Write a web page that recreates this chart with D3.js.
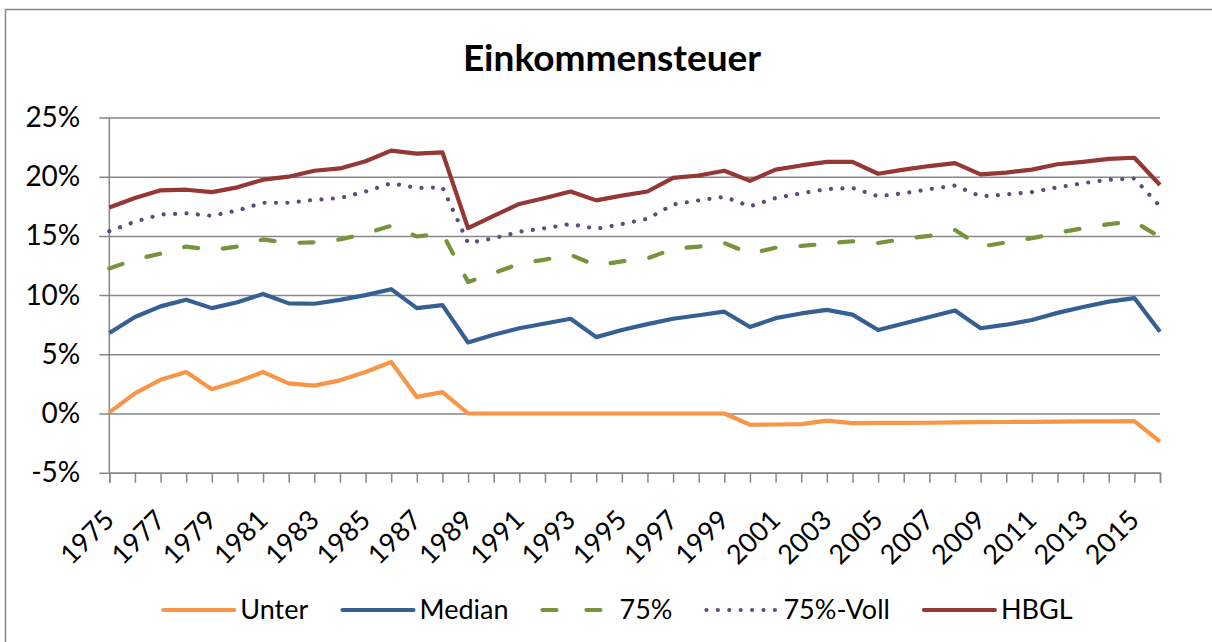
<!DOCTYPE html>
<html>
<head>
    <meta charset="utf-8">
    <script src="https://d3js.org/d3.v7.min.js"></script>
    <title>Einkommensteuer</title>
    <style>
        body {
            margin: 0;
            background: #ffffff;
        }
        svg text {
            font-family: Lato, "Open Sans", sans-serif;
            fill: #000000;
        }
    </style>
</head>
<body>
    <div id="chartContainer"></div>

    <script>
        // Data (percent)
        var years = d3.range(1975, 2017);
        var yTicks = [-5, 0, 5, 10, 15, 20, 25];
        var seriesNames = ["Unter", "Median", "75%", "75%-Voll", "HBGL"];

        var unter = [0.1, 1.7, 2.85, 3.5, 2.05, 2.7, 3.5, 2.55, 2.35, 2.8, 3.5, 4.35, 1.4, 1.8,
            0, 0, 0, 0, 0, 0, 0, 0, 0, 0, 0,
            -0.95, -0.93, -0.9, -0.6, -0.82, -0.8, -0.8, -0.78, -0.75, -0.73, -0.72, -0.7, -0.69, -0.67, -0.66, -0.65, -2.37];
        var median = [6.8, 8.15, 9.05, 9.6, 8.9, 9.4, 10.1, 9.3, 9.27, 9.6, 10.0, 10.5, 8.9, 9.15,
            6.0, 6.65, 7.2, 7.6, 8.0, 6.45, 7.05, 7.55, 8.0, 8.3, 8.6,
            7.3, 8.05, 8.45, 8.75, 8.35, 7.05, 7.6, 8.15, 8.7, 7.2, 7.5, 7.9, 8.5, 9.0, 9.45, 9.75, 6.9];
        var p75 = [12.25, 13.0, 13.5, 14.1, 13.8, 14.1, 14.7, 14.4, 14.45, 14.7, 15.2, 15.85, 14.95, 15.2,
            11.1, 11.85, 12.65, 13.0, 13.4, 12.5, 12.85, 13.1, 13.9, 14.1, 14.4,
            13.5, 14.0, 14.15, 14.35, 14.55, 14.4, 14.75, 15.0, 15.5, 14.1, 14.45, 14.8, 15.25, 15.65, 16.0, 16.2, 14.9];
        var p75voll = [15.4, 16.2, 16.8, 16.9, 16.7, 17.15, 17.8, 17.8, 18.05, 18.2, 18.75, 19.45, 19.05, 19.1,
            14.4, 14.8, 15.35, 15.65, 16.0, 15.6, 16.0, 16.45, 17.65, 18.0, 18.3,
            17.5, 18.2, 18.6, 18.95, 19.05, 18.35, 18.6, 18.95, 19.25, 18.35, 18.5, 18.7, 19.1, 19.45, 19.75, 19.85, 17.5];
        var hbgl = [17.4, 18.2, 18.85, 18.9, 18.7, 19.1, 19.75, 20.0, 20.5, 20.7, 21.3, 22.2, 21.95, 22.05,
            15.65, 16.7, 17.7, 18.2, 18.75, 18.0, 18.4, 18.75, 19.9, 20.1, 20.5,
            19.65, 20.6, 20.95, 21.25, 21.25, 20.25, 20.6, 20.9, 21.15, 20.2, 20.35, 20.6, 21.05, 21.25, 21.5, 21.6, 19.3];

        var seriesValues = [unter, median, p75, p75voll, hbgl];

        // Line styles per series
        var colors = ["#F79646", "#376092", "#77933C", "#604A7B", "#953735"];
        var dashes = [null, null, "14 25", "0.01 11.4", null];

        var width = 1212, height = 642;
        var margin = {left: 109.3, right: 52, top: 117.5, bottom: 169.3};
        var gridColor = "#878787";

        var svg = d3.select('#chartContainer').append('svg')
            .attr('width', width)
            .attr('height', height);

        // Outer chart frame (runs off the right and bottom edges)
        svg.append('rect')
            .attr('x', 5.5).attr('y', 9.5)
            .attr('width', 1240).attr('height', 700)
            .attr('fill', 'none')
            .attr('stroke', gridColor)
            .attr('stroke-width', 1.5);

        // Title
        svg.append('text')
            .attr('x', 612)
            .attr('y', 71)
            .attr('text-anchor', 'middle')
            .style('font-size', '37px')
            .style('font-weight', 'bold')
            .text('Einkommensteuer');

        var x = d3.scaleLinear()
            .domain([years[0], years[years.length - 1]])
            .range([margin.left, width - margin.right]);
        var y = d3.scaleLinear()
            .domain([-5, 25])
            .range([height - margin.bottom, margin.top]);

        // Horizontal gridlines plus y tick marks
        var yAxis = d3.axisLeft(y)
            .tickValues(yTicks)
            .tickSize(-(x.range()[1] - x.range()[0]))
            .tickPadding(29)
            .tickFormat(function(d) { return d + '%'; });

        var gy = svg.append('g')
            .attr('transform', 'translate(' + margin.left + ',0)')
            .call(yAxis);
        gy.select('.domain').remove();
        gy.selectAll('.tick line')
            .attr('x1', -10)
            .attr('stroke', gridColor)
            .attr('stroke-width', 1.5);
        gy.selectAll('.tick text')
            .style('font-size', '28px')
            .attr('fill', '#000');

        // Vertical axis line
        svg.append('line')
            .attr('x1', margin.left).attr('x2', margin.left)
            .attr('y1', y(25)).attr('y2', y(-5))
            .attr('stroke', gridColor)
            .attr('stroke-width', 1.5);

        // X axis with a tick at every year and labels every other year
        var xAxis = d3.axisBottom(x)
            .tickValues(years)
            .tickSize(10)
            .tickFormat(function(d) { return (d - 1975) % 2 === 0 ? d : ''; });

        var gx = svg.append('g')
            .attr('transform', 'translate(0,' + y(-5) + ')')
            .call(xAxis);
        gx.select('.domain')
            .attr('stroke', gridColor)
            .attr('stroke-width', 1.5);
        gx.selectAll('.tick line')
            .attr('stroke', gridColor)
            .attr('stroke-width', 1.5);
        gx.selectAll('.tick text')
            .style('font-size', '27px')
            .attr('fill', '#000')
            .attr('text-anchor', 'end')
            .attr('dy', 0)
            .attr('y', 0)
            .attr('transform', 'translate(6,49) rotate(-45)');

        // Series lines
        var line = d3.line()
            .x(function(d, i) { return x(years[i]); })
            .y(function(d) { return y(d); });

        seriesValues.forEach(function(vals, i) {
            svg.append('path')
                .datum(vals)
                .attr('d', line)
                .attr('fill', 'none')
                .attr('stroke', colors[i])
                .attr('stroke-width', 4.2)
                .attr('stroke-linejoin', 'round')
                .attr('stroke-linecap', dashes[i] ? 'round' : 'butt')
                .attr('stroke-dasharray', dashes[i]);
        });

        // Legend, laid out left to right and centred
        var legend = svg.append('g').attr('class', 'legend');
        var lineLen = 71, textGap = 6, itemGap = 34;
        var items = legend.selectAll('g')
            .data(seriesNames)
            .enter().append('g');

        items.append('line')
            .attr('x1', 0).attr('x2', lineLen)
            .attr('y1', 0).attr('y2', 0)
            .attr('stroke', function(d, i) { return colors[i]; })
            .attr('stroke-width', 4.2)
            .attr('stroke-linecap', 'round')
            .attr('stroke-dasharray', function(d, i) {
                if (i === 2) return '14 30';
                return dashes[i];
            });

        items.append('text')
            .attr('x', lineLen + textGap)
            .attr('dy', '0.35em')
            .style('font-size', '27px')
            .text(function(d) { return d; });

        var widths = [];
        items.each(function() { widths.push(this.getBBox().width); });
        var total = d3.sum(widths) + itemGap * (widths.length - 1);
        var cursor = 618 - total / 2;
        items.attr('transform', function(d, i) {
            var t = 'translate(' + cursor + ',610)';
            cursor += widths[i] + itemGap;
            return t;
        });
    </script>
</body>
</html>
